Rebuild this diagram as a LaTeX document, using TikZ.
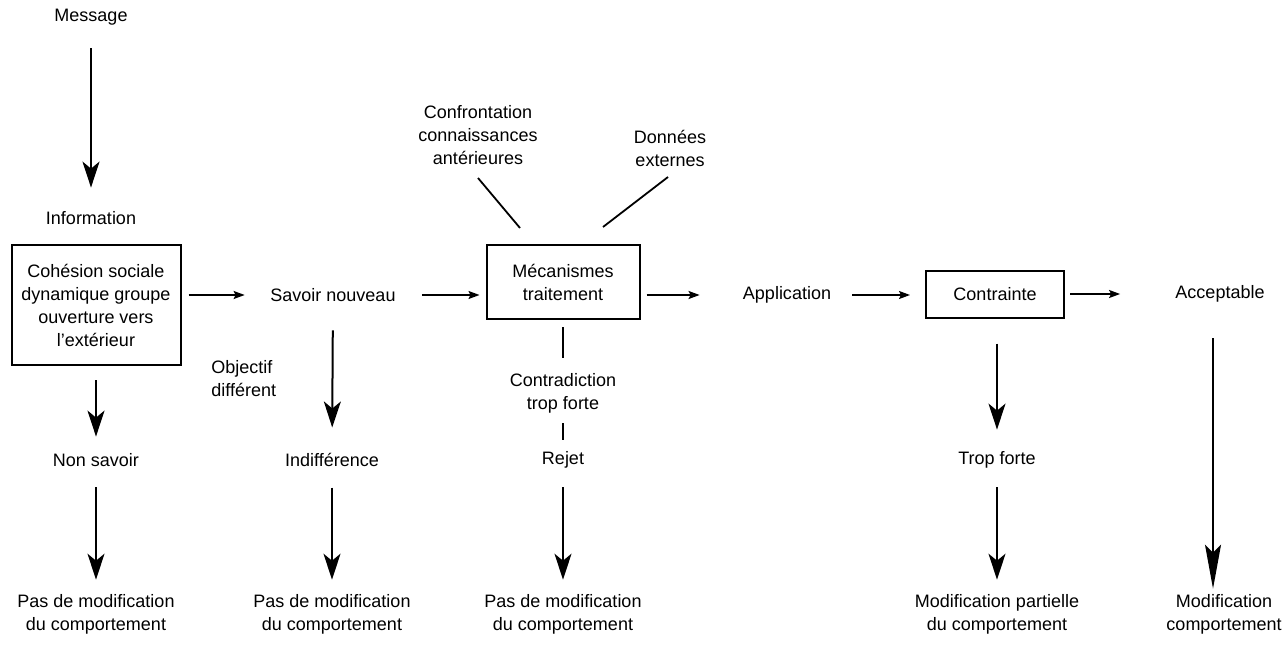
\documentclass[tikz,border=0pt]{standalone}
\usepackage{fontspec}
\setmainfont{Liberation Sans}
\usetikzlibrary{arrows.meta}

\begin{document}
\begin{tikzpicture}[x=0.5pt,y=-0.5pt,
  every node/.style={inner sep=0pt,align=center,font=\fontsize{9}{11.5}\selectfont},
  box/.style={draw,line width=1pt},
  vflow/.style={-{Stealth[length=13pt,width=8.5pt,inset=3.5pt]},line width=1pt},
  longflow/.style={-{Stealth[length=22pt,width=8pt,inset=4pt]},line width=1pt},
  hflow/.style={-{Stealth[length=5.5pt,width=4pt,inset=1pt]},line width=0.8pt},
  link/.style={line width=0.9pt}]
  \useasboundingbox (0,0) rectangle (1283,652);

  % entry
  \node (msg) at (91,17) {Message};
  \node (info) at (91,218) {Information};
  \node[box,minimum width=84.5pt,minimum height=60pt] (cohesion) at (96,305)
    {Cohésion sociale\\dynamique groupe\\ouverture vers\\l'extérieur};
  \node[anchor=west,align=left] (objectif) at (211,378.5) {Objectif\\différent};

  % main row
  \node (savoir) at (333,295) {Savoir nouveau};
  \node[box,minimum width=76.5pt,minimum height=37pt] (meca) at (563,282) {Mécanismes\\traitement};
  \node (confr) at (478,135) {Confrontation\\connaissances\\antérieures};
  \node (donnees) at (670,148.5) {Données\\externes};
  \node (appli) at (787,295) {Application};
  \node[box,minimum width=69pt,minimum height=23.5pt] (contrainte) at (995,294) {Contrainte};
  \node (accept) at (1220,294) {Acceptable};

  % second row
  \node (nonsavoir) at (96,460) {Non savoir};
  \node (indiff) at (332,460) {Indifférence};
  \node (contra) at (563,393) {Contradiction\\trop forte};
  \node (rejet) at (563,460) {Rejet};
  \node (tropforte) at (997,460) {Trop forte};

  % results
  \node (pas1) at (96,614) {Pas de modification\\du comportement};
  \node (pas2) at (332,614) {Pas de modification\\du comportement};
  \node (pas3) at (563,614) {Pas de modification\\du comportement};
  \node (modpart) at (997,614) {Modification partielle\\du comportement};
  \node (modcomp) at (1224,614) {Modification\\comportement};

  % vertical arrows
  \draw[vflow,shorten <=11.3pt,shorten >=11.7pt] (msg) -- (info);
  \draw[vflow,shorten <=7pt,shorten >=8.2pt] (cohesion) -- (nonsavoir);
  \draw[vflow,shorten <=10.2pt,shorten >=7pt] (nonsavoir) -- (pas1);
  \draw[vflow,shorten <=14.2pt,shorten >=12.7pt] (savoir) -- (indiff);
  \draw[vflow,shorten <=10.2pt,shorten >=7pt] (indiff) -- (pas2);
  \draw[vflow,shorten <=9.3pt,shorten >=7pt] (rejet) -- (pas3);
  \draw[vflow,shorten <=12.5pt,shorten >=10.8pt] (tropforte |- contrainte.south) -- (tropforte);
  \draw[vflow,shorten <=9.3pt,shorten >=7pt] (tropforte) -- (modpart);
  \draw[longflow,shorten <=17.8pt,shorten >=2.5pt] ([xshift=-3.5pt]accept.south) -- ([xshift=-5.5pt]modcomp.north);

  % horizontal arrows
  \draw[hflow,shorten <=3.5pt,shorten >=12.7pt] (cohesion.east |- savoir) -- (savoir);
  \draw[hflow,shorten <=13pt,shorten >=3pt] (savoir) -- (savoir -| meca.west);
  \draw[hflow,shorten <=3pt,shorten >=21.5pt] (meca.east |- appli) -- (appli);
  \draw[hflow,shorten <=10.5pt,shorten >=7.5pt] (appli) -- (appli -| contrainte.west);
  \draw[hflow,shorten <=2.5pt,shorten >=27.5pt] (contrainte) -- (accept);

  % plain links
  \coordinate (cA) at (478,178);
  \coordinate (cB) at (520,228);
  \coordinate (dA) at (668,177);
  \coordinate (dB) at (603,227);
  \draw[link] (cA) -- (cB);
  \draw[link] (dA) -- (dB);
  \draw[link,shorten <=3.5pt,shorten >=7.5pt] (meca) -- (contra);
  \draw[link,shorten <=5pt,shorten >=5.8pt] (contra) -- (rejet);
\end{tikzpicture}
\end{document}
